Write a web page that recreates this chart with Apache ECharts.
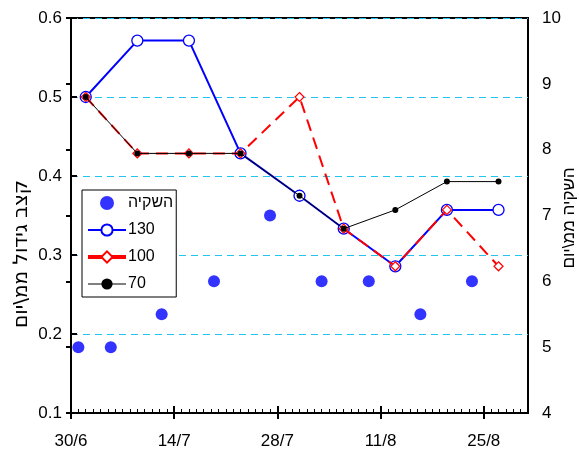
<!DOCTYPE html>
<html>
<head>
<meta charset="utf-8">
<script src="https://cdn.jsdelivr.net/npm/echarts@6/dist/echarts.min.js"></script>
<style>
html,body{margin:0;padding:0;background:#fff;}
#c{width:579px;height:454px;}
</style>
</head>
<body>
<div id="c"></div>
<script>
// ---- data ----
const xTickDays = [0, 14, 28, 42, 56];
const xLabels = ['30/6', '14/7', '28/7', '11/8', '25/8'];
const irrDays = [1, 5.4, 12.3, 19.4, 27, 34, 40.4, 47.4, 54.4];
const irrValues = [5, 5, 5.5, 6, 7, 6, 6, 5.5, 6];
const rateDays = [2, 9, 16, 23, 31, 37, 44, 51, 58];
const s130 = [0.5, 0.5714, 0.5714, 0.4286, 0.375, 0.3333, 0.2857, 0.3571, 0.3571];
const s100 = [0.5, 0.4286, 0.4286, 0.4286, 0.5, 0.3333, 0.2857, 0.3571, 0.2857];
const s70 = [0.5, 0.4286, 0.4286, 0.4286, 0.375, 0.3333, 0.3571, 0.3929, 0.3929];
const leftTitle = 'קצב גידול ממ\\יום';
const rightTitle = 'השקיה ממ\\יום';
const names = ['השקיה', '130', '100', '70'];

const pair = (xs, ys) => xs.map((x, i) => [x, ys[i]]);
const FONT = 'Liberation Sans, Arial, sans-serif';

const chart = echarts.init(document.getElementById('c'), null, {renderer: 'canvas'});
const baseX = {
  type: 'value', min: 0, max: 62, position: 'bottom',
  axisLine: {show: false, onZero: false},
  splitLine: {show: false},
  axisLabel: {show: false},
  axisTick: {show: false}
};
chart.setOption({
  animation: false,
  grid: {left: 71, right: 51, top: 18, bottom: 41, show: true, borderColor: '#000', borderWidth: 2, containLabel: false},
  legend: {
    orient: 'vertical', left: 82, top: 190,
    itemWidth: 38, itemHeight: 14, itemGap: 11,
    padding: [5, 3, 5, 4],
    backgroundColor: '#fff', borderColor: '#000', borderWidth: 1, borderRadius: 0,
    textStyle: {fontFamily: FONT, fontSize: 16, color: '#000', padding: [0, 0, 0, -3]},
    data: [
      {name: names[0]},
      {name: names[1], lineStyle: {type: 'solid', width: 2}},
      {name: names[2], lineStyle: {type: 'solid', width: 4}},
      {name: names[3], lineStyle: {type: 'solid', width: 1}}
    ]
  },
  xAxis: [
    Object.assign({}, baseX, {
      axisLine: {show: true, onZero: false, lineStyle: {color: '#000', width: 2}},
      axisTick: {show: true, inside: true, length: 7, lineStyle: {color: '#000', width: 2}, customValues: xTickDays},
      axisLabel: {show: true, margin: 20, fontFamily: FONT, fontSize: 17, color: '#000',
        customValues: xTickDays,
        formatter: v => { const i = xTickDays.indexOf(v); return i >= 0 ? xLabels[i] : ''; }}
    }),
    Object.assign({}, baseX, {
      interval: 1,
      axisTick: {show: true, inside: true, length: 4, lineStyle: {color: '#000', width: 1}}
    }),
    Object.assign({}, baseX, {
      axisTick: {show: true, inside: false, length: 6, lineStyle: {color: '#000', width: 2}, customValues: xTickDays}
    })
  ],
  yAxis: [
    {
      type: 'value', min: 0.1, max: 0.6, interval: 0.1, position: 'left',
      axisLine: {show: true, lineStyle: {color: '#000', width: 2}},
      axisTick: {show: true, inside: true, length: 6, lineStyle: {color: '#000', width: 2}},
      axisLabel: {margin: 9, fontFamily: FONT, fontSize: 17, color: '#000', formatter: v => v.toFixed(1)},
      splitLine: {show: true, lineStyle: {color: '#22c4ee', width: 1, type: [7, 5]}}
    },
    {
      type: 'value', min: 4, max: 10, interval: 1, position: 'right',
      axisLine: {show: true, lineStyle: {color: '#000', width: 2}},
      axisTick: {show: true, inside: true, length: 5, lineStyle: {color: '#000', width: 2}},
      axisLabel: {margin: 14, fontFamily: FONT, fontSize: 17, color: '#000'},
      splitLine: {show: false}
    }
  ],
  series: [
    {
      name: names[0], type: 'scatter', yAxisIndex: 1,
      symbol: 'circle', symbolSize: 12,
      itemStyle: {color: '#0000ff'},
      data: pair(irrDays, irrValues), z: 2
    },
    {
      name: names[1], type: 'line', yAxisIndex: 0,
      symbol: 'circle', symbolSize: 11, showAllSymbol: true,
      lineStyle: {color: '#0000ff', width: 2},
      itemStyle: {color: '#fff', borderColor: '#0000ff', borderWidth: 1.3},
      data: pair(rateDays, s130), z: 3
    },
    {
      name: names[2], type: 'line', yAxisIndex: 0,
      symbol: 'diamond', symbolSize: 9, showAllSymbol: true,
      lineStyle: {color: '#ff0000', width: 2, type: [12, 7]},
      itemStyle: {color: '#fff', borderColor: '#ff0000', borderWidth: 1.2},
      data: pair(rateDays, s100), z: 4
    },
    {
      name: names[3], type: 'line', yAxisIndex: 0,
      symbol: 'circle', symbolSize: 6, showAllSymbol: true,
      lineStyle: {color: '#000', width: 1},
      itemStyle: {color: '#000'},
      data: pair(rateDays, s70), z: 5
    }
  ],
  graphic: [
    {type: 'text', x: 22, y: 254, rotation: Math.PI / 2,
      style: {text: leftTitle, font: '20px DejaVu Sans, sans-serif', fill: '#000', align: 'center', verticalAlign: 'middle'}},
    {type: 'text', x: 569, y: 218, rotation: Math.PI / 2,
      style: {text: rightTitle, font: '17px ' + FONT, fill: '#000', align: 'center', verticalAlign: 'middle'}}
  ]
});
</script>
</body>
</html>
